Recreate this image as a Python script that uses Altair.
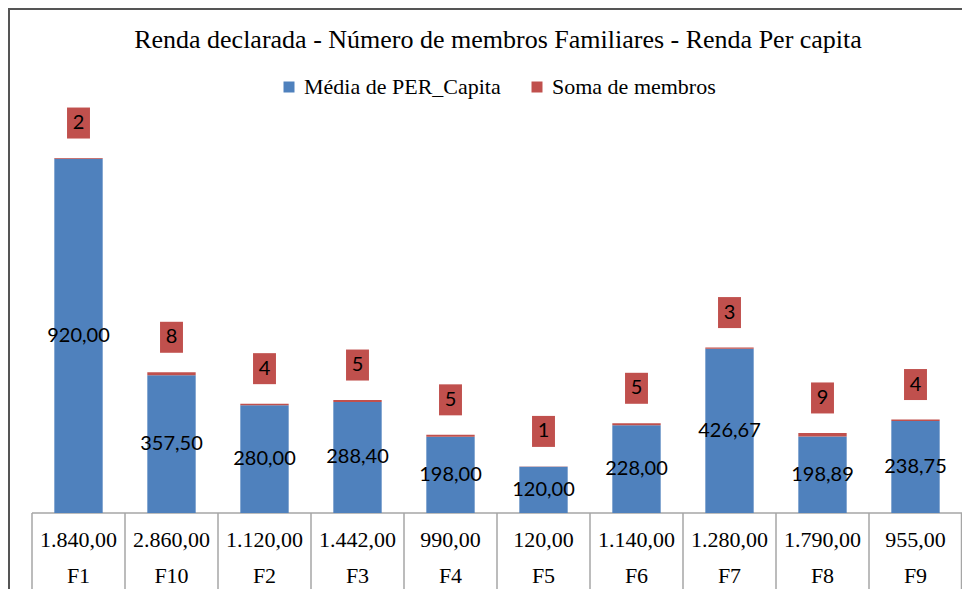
import altair as alt
import pandas as pd

# ---- data ----
categories = ["F1", "F10", "F2", "F3", "F4", "F5", "F6", "F7", "F8", "F9"]
media_per_capita = [920.00, 357.50, 280.00, 288.40, 198.00, 120.00, 228.00, 426.67, 198.89, 238.75]
soma_membros = [2, 8, 4, 5, 5, 1, 5, 3, 9, 4]
renda_declarada = [1840.00, 2860.00, 1120.00, 1442.00, 990.00, 120.00, 1140.00, 1280.00, 1790.00, 955.00]

TITLE = "Renda declarada - Número de membros Familiares - Renda Per capita"
S_BLUE = "Média de PER_Capita"
S_RED = "Soma de membros"

BLUE = "#4f81bd"
RED = "#c0504d"
SERIF = "Liberation Serif"
SANS = "Lato"
W, H = 930, 385


def br(v):
    s = f"{v:,.2f}"
    return s.replace(",", "X").replace(".", ",").replace("X", ".")


wide = pd.DataFrame({
    "cat": categories,
    "blue": media_per_capita,
    "red": soma_membros,
    "renda": renda_declarada,
})
wide["total"] = wide["blue"] + wide["red"]
wide["blue_label"] = [br(v) for v in media_per_capita]
wide["renda_label"] = [br(v) for v in renda_declarada]
wide["red_label"] = [str(v) for v in soma_membros]

long = pd.concat([
    pd.DataFrame({"cat": categories, "series": S_BLUE, "value": media_per_capita, "ord": 0}),
    pd.DataFrame({"cat": categories, "series": S_RED, "value": soma_membros, "ord": 1}),
])

xbar = alt.X("cat:N", sort=categories, axis=None,
             scale=alt.Scale(paddingInner=0.48, paddingOuter=0.24))
yscale = alt.Scale(domain=[0, 1000], nice=False)

bars = alt.Chart(long).mark_bar().encode(
    x=xbar,
    y=alt.Y("value:Q", stack="zero", scale=yscale, axis=None),
    color=alt.Color("series:N",
                    scale=alt.Scale(domain=[S_BLUE, S_RED], range=[BLUE, RED]),
                    legend=alt.Legend(orient="none", legendX=246, legendY=-52,
                                      direction="horizontal", title=None,
                                      symbolType="square", symbolSize=121,
                                      symbolStrokeWidth=0,
                                      labelFont=SERIF, labelFontSize=22,
                                      labelLimit=0,
                                      labelColor="#000000", labelOffset=4,
                                      columnPadding=25, padding=0)),
    order=alt.Order("ord:Q"),
)

blue_text = alt.Chart(wide).transform_calculate(mid="datum.blue / 2").mark_text(
    font=SANS, fontSize=20, color="#000000", baseline="middle"
).encode(
    x=xbar,
    y=alt.Y("mid:Q", scale=yscale, axis=None),
    text="blue_label:N",
)

red_box = alt.Chart(wide).mark_point(
    shape="M-0.74,-1L0.74,-1L0.74,1L-0.74,1Z", size=961, filled=True,
    color=RED, opacity=1, yOffset=-35
).encode(
    x=xbar,
    y=alt.Y("total:Q", scale=yscale, axis=None),
)

red_text = alt.Chart(wide).mark_text(
    font=SANS, fontSize=20, color="#000000", baseline="middle", yOffset=-35
).encode(
    x=xbar,
    y=alt.Y("total:Q", scale=yscale, axis=None),
    text="red_label:N",
)

xtab = alt.X("cat:N", sort=categories, axis=None,
             scale=alt.Scale(paddingInner=0, paddingOuter=0), bandPosition=0)
xtab_mid = alt.X("cat:N", sort=categories, axis=None,
                 scale=alt.Scale(paddingInner=0, paddingOuter=0))

grid_v = alt.Chart(wide).mark_rule(color="#a6a6a6", strokeWidth=1.5).encode(
    x=xtab, y=alt.value(H), y2=alt.value(H + 80)
)
grid_last = alt.Chart(wide.head(1)).mark_rule(color="#a6a6a6", strokeWidth=1.5).encode(
    x=alt.value(W - 0.5), y=alt.value(H), y2=alt.value(H + 80)
)
grid_top = alt.Chart(wide.head(1)).mark_rule(color="#a6a6a6", strokeWidth=1.5).encode(
    x=alt.value(0), x2=alt.value(W), y=alt.value(H)
)
row1 = alt.Chart(wide).mark_text(font=SERIF, fontSize=22, color="#000000",
                                 baseline="middle").encode(
    x=xtab_mid, y=alt.value(H + 27), text="renda_label:N"
)
row2 = alt.Chart(wide).mark_text(font=SERIF, fontSize=22, color="#000000",
                                 baseline="middle").encode(
    x=xtab_mid, y=alt.value(H + 63), text="cat:N"
)

frame_top = alt.Chart(wide.head(1)).mark_rule(color="#555555", strokeWidth=2).encode(
    x=alt.value(-24), x2=alt.value(W + 10), y=alt.value(-119)
)
frame_left = alt.Chart(wide.head(1)).mark_rule(color="#555555", strokeWidth=2).encode(
    x=alt.value(-23), y=alt.value(-120), y2=alt.value(H + 90)
)

title_df = pd.DataFrame({"t": [TITLE]})
title = alt.Chart(title_df).mark_text(font=SERIF, fontSize=26, color="#000000",
                                      baseline="middle", align="center").encode(
    x=alt.value(W / 2 + 1), y=alt.value(-88), text="t:N"
)

chart = alt.layer(
    frame_top, frame_left, title,
    grid_v, grid_last, grid_top, row1, row2,
    bars, blue_text, red_box, red_text,
).resolve_scale(x="independent").properties(
    width=W, height=H,
    autosize=alt.AutoSizeParams(type="none"),
    padding={"left": 24, "top": 120, "right": 0, "bottom": 76},
    background="#ffffff",
).configure_view(stroke=None)

chart.save("out.html", embed_options={"renderer": "svg", "actions": False})
